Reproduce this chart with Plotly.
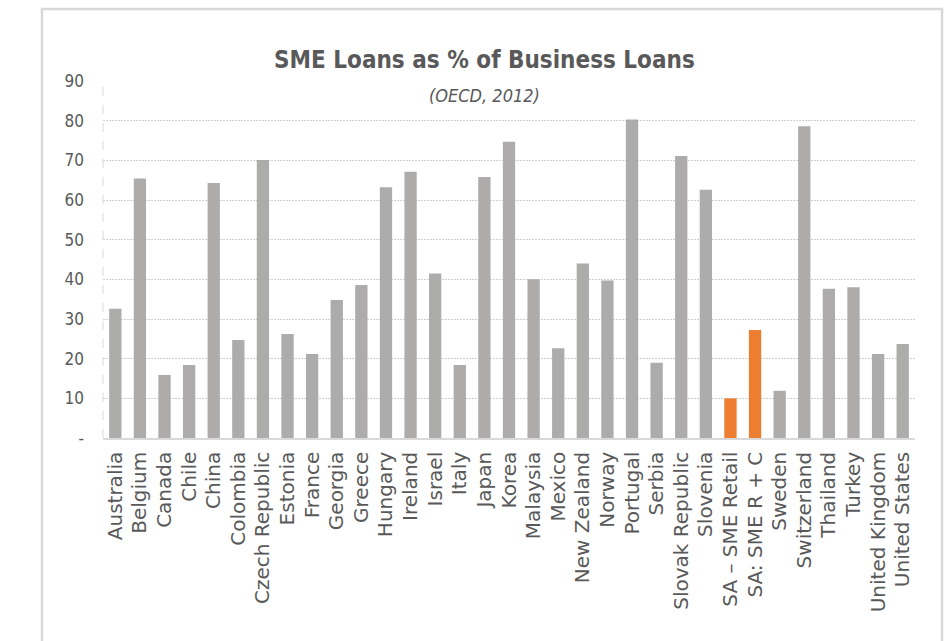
import plotly.graph_objects as go

categories = ["Australia", "Belgium", "Canada", "Chile", "China", "Colombia",
              "Czech Republic", "Estonia", "France", "Georgia", "Greece", "Hungary",
              "Ireland", "Israel", "Italy", "Japan", "Korea", "Malaysia", "Mexico",
              "New Zealand", "Norway", "Portugal", "Serbia", "Slovak Republic",
              "Slovenia", "SA – SME Retail", "SA: SME R + C", "Sweden", "Switzerland",
              "Thailand", "Turkey", "United Kingdom", "United States"]
values = [32.6, 65.4, 15.9, 18.4, 64.3, 24.7, 70.1, 26.2, 21.2, 34.8, 38.6, 63.2,
          67.1, 41.5, 18.4, 65.8, 74.7, 40.0, 22.6, 44.0, 39.7, 80.3, 19.0, 71.1,
          62.6, 10.0, 27.2, 11.9, 78.6, 37.6, 38.0, 21.2, 23.7]
highlight = ["SA – SME Retail", "SA: SME R + C"]
y_ticks = [0, 10, 20, 30, 40, 50, 60, 70, 80, 90]
y_tick_text = ["-", "10", "20", "30", "40", "50", "60", "70", "80", "90"]

GRAY = "#AEABAB"
ORANGE = "#ED7D31"
TXT = "#595959"
LINE = "#D9D9D9"
NARROW = "DejaVu Sans Condensed, Liberation Sans Narrow, sans-serif"

bar_colors = [ORANGE if c in highlight else GRAY for c in categories]

fig = go.Figure(go.Bar(
    x=categories, y=values, marker=dict(color=bar_colors, line=dict(width=0)),
    hoverinfo="x+y"))

W, H = 946, 641
L, R, T, B = 103, 31, 81, 203
pw, ph = W - L - R, H - T - B

def px(x):
    return (x - L) / pw

def py(y):
    return (H - B - y) / ph

fig.update_layout(
    width=W, height=H,
    margin=dict(l=L, r=R, t=T, b=B, autoexpand=False),
    paper_bgcolor="white", plot_bgcolor="white",
    bargap=0.5, showlegend=False,
    xaxis=dict(type="category", tickangle=-90, automargin=False,
               tickmode="array", tickvals=categories, ticktext=categories,
               tickfont=dict(family="DejaVu Sans, sans-serif", size=20, color=TXT),
               showline=True, linecolor=LINE, linewidth=1.5, showgrid=False,
               ticks="", ticklabelstandoff=4),
    yaxis=dict(range=[0, 90], tickvals=y_ticks, ticktext=y_tick_text,
               automargin=False,
               tickfont=dict(family=NARROW, size=17, color=TXT),
               showgrid=True, gridcolor="#CFCFCF", gridwidth=1, griddash="2px,1px",
               zeroline=False, showline=False, ticks="", ticklabelstandoff=18),
    shapes=[
        dict(type="line", xref="paper", yref="paper", x0=0, x1=0, y0=0, y1=1,
             line=dict(color=LINE, width=1, dash="dash"), layer="above"),
        dict(type="rect", xref="paper", yref="paper", x0=px(266), x1=px(704),
             y0=py(85), y1=py(77), fillcolor="white", line=dict(width=0),
             layer="above"),
        dict(type="rect", xref="paper", yref="paper", x0=px(42), x1=px(942),
             y0=py(660), y1=py(9), line=dict(color=LINE, width=2.5),
             fillcolor="rgba(0,0,0,0)", layer="above"),
    ],
    annotations=[
        dict(text="<b>SME Loans as % of Business Loans</b>", xref="paper", yref="paper",
             x=px(484), y=py(60), xanchor="center", yanchor="middle", showarrow=False,
             font=dict(family=NARROW, size=24, color=TXT)),
        dict(text="<i>(OECD, 2012)</i>", xref="paper", yref="paper",
             x=px(484), y=py(96), xanchor="center", yanchor="middle", showarrow=False,
             font=dict(family=NARROW, size=18, color=TXT)),
    ],
)

fig.write_html("out.html")
